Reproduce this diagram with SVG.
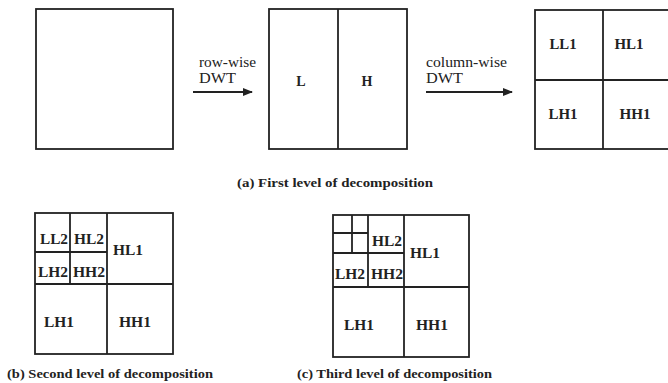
<svg xmlns="http://www.w3.org/2000/svg" width="668" height="383" viewBox="0 0 668 383">
<defs>
<style>
.box{fill:#fff;stroke:#222;stroke-width:1.8}
.ln{stroke:#222;stroke-width:1.8;fill:none}
.lab{font-family:"Liberation Serif","Times New Roman",serif;font-size:14px;font-weight:bold;fill:#222;text-anchor:middle}
.arr{font-family:"Liberation Serif","Times New Roman",serif;font-size:14px;fill:#222}
.cap{font-family:"Liberation Serif","Times New Roman",serif;font-size:13.5px;font-weight:bold;fill:#222}
</style>
<marker id="ah" markerWidth="10" markerHeight="8" refX="9" refY="4" orient="auto" markerUnits="userSpaceOnUse">
<path d="M0,0 L10,4 L0,8 Z" fill="#222"/>
</marker>
</defs>
<rect width="668" height="383" fill="#fff"/>

<g id="original">
<rect class="box" x="36" y="9" width="137" height="140"/>
</g>

<g id="rowwise">
<rect class="box" x="269" y="9" width="138" height="140"/>
<line class="ln" x1="338" y1="9" x2="338" y2="149"/>
<text class="lab" x="301" y="86" font-size="15">L</text>
<text class="lab" x="367" y="86" font-size="15">H</text>
</g>

<g id="level1">
<rect class="box" x="535" y="10" width="140" height="139"/>
<line class="ln" x1="603" y1="10" x2="603" y2="149"/>
<line class="ln" x1="535" y1="80" x2="668" y2="80"/>
<text class="lab" x="563" y="49" textLength="27" lengthAdjust="spacingAndGlyphs">LL1</text>
<text class="lab" x="629" y="49" textLength="29" lengthAdjust="spacingAndGlyphs">HL1</text>
<text class="lab" x="563" y="119" textLength="29" lengthAdjust="spacingAndGlyphs">LH1</text>
<text class="lab" x="635" y="119" textLength="31" lengthAdjust="spacingAndGlyphs">HH1</text>
</g>

<g id="connectors">
<line class="ln" x1="193" y1="92" x2="252" y2="92" stroke-width="1.5" marker-end="url(#ah)"/>
<line class="ln" x1="426" y1="92" x2="512" y2="92" stroke-width="1.5" marker-end="url(#ah)"/>
<text class="arr" x="199" y="67" textLength="57" lengthAdjust="spacingAndGlyphs">row-wise</text>
<text class="arr" x="199" y="83" textLength="37" lengthAdjust="spacingAndGlyphs">DWT</text>
<text class="arr" x="426" y="67" textLength="81" lengthAdjust="spacingAndGlyphs">column-wise</text>
<text class="arr" x="426" y="83" textLength="37" lengthAdjust="spacingAndGlyphs">DWT</text>
</g>

<g id="level2">
<rect class="box" x="35" y="213" width="138" height="141"/>
<line class="ln" x1="107" y1="213" x2="107" y2="354"/>
<line class="ln" x1="35" y1="284" x2="173" y2="284"/>
<line class="ln" x1="35" y1="252" x2="107" y2="252"/>
<line class="ln" x1="70" y1="213" x2="70" y2="284"/>
<text class="lab" x="54" y="244" textLength="28" lengthAdjust="spacingAndGlyphs">LL2</text>
<text class="lab" x="89" y="244" textLength="30" lengthAdjust="spacingAndGlyphs">HL2</text>
<text class="lab" x="128" y="255" textLength="30" lengthAdjust="spacingAndGlyphs">HL1</text>
<text class="lab" x="53" y="277" textLength="30" lengthAdjust="spacingAndGlyphs">LH2</text>
<text class="lab" x="89" y="277" textLength="32" lengthAdjust="spacingAndGlyphs">HH2</text>
<text class="lab" x="59" y="327" textLength="30" lengthAdjust="spacingAndGlyphs">LH1</text>
<text class="lab" x="135" y="327" textLength="32" lengthAdjust="spacingAndGlyphs">HH1</text>
</g>

<g id="level3">
<rect class="box" x="333" y="215" width="136" height="142"/>
<line class="ln" x1="404" y1="215" x2="404" y2="357"/>
<line class="ln" x1="333" y1="287" x2="469" y2="287"/>
<line class="ln" x1="333" y1="253" x2="404" y2="253"/>
<line class="ln" x1="368" y1="215" x2="368" y2="287"/>
<line class="ln" x1="333" y1="233" x2="368" y2="233"/>
<line class="ln" x1="352" y1="215" x2="352" y2="253"/>
<text class="lab" x="387" y="246" textLength="30" lengthAdjust="spacingAndGlyphs">HL2</text>
<text class="lab" x="425" y="258" textLength="30" lengthAdjust="spacingAndGlyphs">HL1</text>
<text class="lab" x="350" y="279" textLength="30" lengthAdjust="spacingAndGlyphs">LH2</text>
<text class="lab" x="387" y="279" textLength="32" lengthAdjust="spacingAndGlyphs">HH2</text>
<text class="lab" x="359" y="330" textLength="30" lengthAdjust="spacingAndGlyphs">LH1</text>
<text class="lab" x="432" y="330" textLength="32" lengthAdjust="spacingAndGlyphs">HH1</text>
</g>

<g id="captions">
<text class="cap" x="237" y="187" textLength="196" lengthAdjust="spacingAndGlyphs">(a) First level of decomposition</text>
<text class="cap" x="7" y="378" textLength="206" lengthAdjust="spacingAndGlyphs">(b) Second level of decomposition</text>
<text class="cap" x="297" y="378" textLength="195" lengthAdjust="spacingAndGlyphs">(c) Third level of decomposition</text>
</g>
</svg>
